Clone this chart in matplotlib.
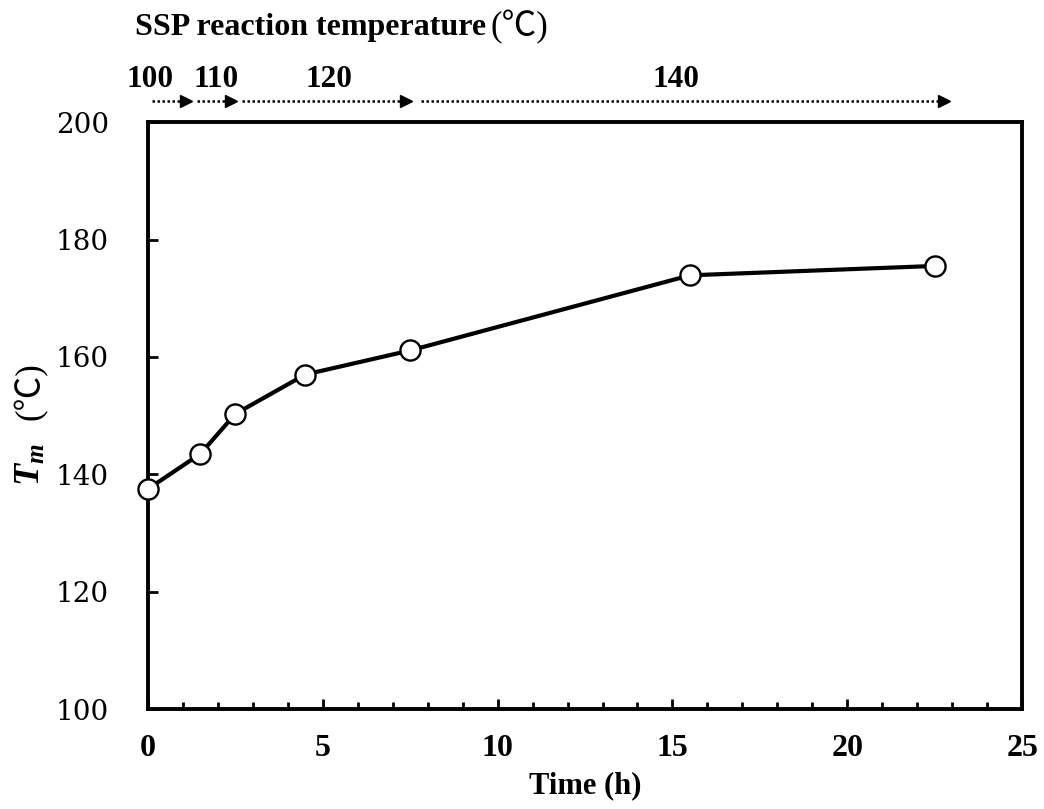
import matplotlib
matplotlib.use("Agg")
import matplotlib.pyplot as plt
import matplotlib.transforms as mtransforms

# ==========================================
# Data
# ==========================================

time_h = [0, 1.5, 2.5, 4.5, 7.5, 15.5, 22.5]
tm_c = [137.5, 143.5, 150.3, 157.0, 161.1, 173.9, 175.5]

# SSP temperature stages along the time axis
stage_labels = ["100", "110", "120", "140"]
stage_start = [0.1, 1.4, 2.7, 7.8]
stage_end = [1.2, 2.5, 7.5, 22.9]
stage_label_x = [0.06, 1.94, 5.17, 15.09]

# ==========================================
# Style
# ==========================================

plt.rcParams["font.family"] = ["Liberation Serif", "Noto Sans CJK JP", "DejaVu Sans"]
plt.rcParams["mathtext.fontset"] = "custom"
plt.rcParams["mathtext.it"] = "Liberation Serif:italic:bold"
plt.rcParams["mathtext.rm"] = "Liberation Serif:bold"
plt.rcParams["mathtext.bf"] = "Liberation Serif:bold"

fig = plt.figure(figsize=(10.44, 8.09), dpi=100)
ax = fig.add_axes([0.1418, 0.1236, 0.979 - 0.1418, 0.849 - 0.1236])

ax.plot(time_h, tm_c, color="black", linewidth=3, marker="o", markersize=14.5,
        markerfacecolor="white", markeredgecolor="black", markeredgewidth=1.7,
        zorder=3, clip_on=False)

ax.set_xlim(0, 25)
ax.set_ylim(100, 200)
ax.set_xticks(range(0, 26, 5))
ax.set_xticks(range(0, 26, 1), minor=True)
ax.set_yticks(range(100, 201, 20))

for s in ax.spines.values():
    s.set_linewidth(2.8)

ax.tick_params(axis="both", which="major", direction="in", length=7, width=2)
ax.tick_params(axis="x", which="minor", direction="in", length=5, width=2)
ax.tick_params(axis="x", which="major", pad=18)
ax.tick_params(axis="y", which="major", pad=28)

for lbl in ax.get_xticklabels():
    lbl.set_fontsize(23)
    lbl.set_fontweight("bold")
for lbl in ax.get_yticklabels():
    lbl.set_fontsize(20)
    lbl.set_family("DejaVu Serif")

ax.set_xlabel("Time (h)", fontsize=22, fontweight="bold", labelpad=6)

# y label: bold italic T_m plus a plain (℃)
fig.text(0.0297, 0.425, r"$T_m$", rotation=90, ha="center", va="center", fontsize=26)
fig.text(0.0297, 0.517, "(℃)", rotation=90, ha="center", va="center", fontsize=25)

# ==========================================
# Temperature stage arrows above the axes
# ==========================================

trans = mtransforms.blended_transform_factory(ax.transData, ax.transAxes)
for lab, x0, x1, lx in zip(stage_labels, stage_start, stage_end, stage_label_x):
    ax.plot([x0, x1 - 0.15], [1.036, 1.036], transform=trans, color="black",
            linestyle=(0, (1, 1)), linewidth=1.8, clip_on=False)
    ax.plot([x1 - 0.12], [1.036], transform=trans, marker=">", markersize=8,
            color="black", clip_on=False, linestyle="none")
    ax.text(lx, 1.072, lab, transform=trans, ha="center", va="center",
            fontsize=22.5, fontweight="bold")

ax.text(-0.37, 1.162, "SSP reaction temperature", transform=trans, ha="left",
        va="center", fontsize=23, fontweight="bold")
ax.text(9.8, 1.162, "(℃)", transform=trans, ha="left", va="center", fontsize=25)

fig.savefig("out.png", dpi=100)
